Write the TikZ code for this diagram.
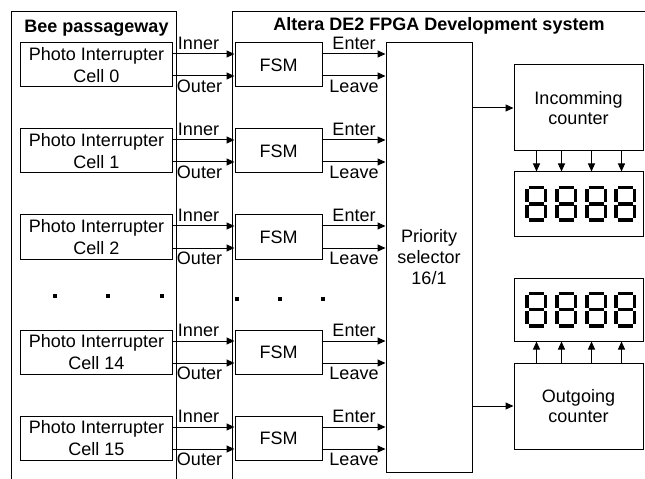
\documentclass[tikz,border=0pt]{standalone}
\usepackage{fontspec}
\setmainfont{Liberation Sans}
\usepackage{tikz}
\usetikzlibrary{arrows.meta}

\tikzset{
  cellbox/.style={draw, line width=1bp, minimum width=151bp, minimum height=44bp, inner sep=0pt, align=center},
  fsmbox/.style={draw, line width=1bp, minimum width=87bp, minimum height=44bp, inner sep=0pt},
  cntbox/.style={draw, line width=1bp, minimum width=129bp, minimum height=86bp, inner sep=0pt, align=center},
  dispbox/.style={draw, line width=1bp, minimum width=129bp, minimum height=64bp, inner sep=0pt},
  arr/.style={line width=1bp, -{Triangle[length=8bp,width=7bp]}},
  inlbl/.style={midway, anchor=base, xshift=-5bp, yshift=4.5bp, inner sep=0pt},
  outlbl/.style={midway, anchor=base, xshift=-4bp, yshift=-16.5bp, inner sep=0pt},
  enlbl/.style={midway, anchor=base, yshift=4.5bp, inner sep=0pt},
  lvlbl/.style={midway, anchor=base, yshift=-16.5bp, inner sep=0pt},
  seg/.style={line width=3.5bp},
  title/.style={font=\fontsize{18bp}{22bp}\selectfont\bfseries}
}

% one seven-segment "8", top left corner at (#1,#2)
\newcommand{\segeight}[2]{%
  \draw[seg] ({#1+3.5},{#2+1.75}) -- ({#1+18.5},{#2+1.75});
  \draw[seg] ({#1+3.5},{#2+18}) -- ({#1+18.5},{#2+18});
  \draw[seg] ({#1+3.5},{#2+34.25}) -- ({#1+18.5},{#2+34.25});
  \draw[seg] ({#1+1.75},{#2+3.5}) -- ({#1+1.75},{#2+16.5});
  \draw[seg] ({#1+1.75},{#2+19.5}) -- ({#1+1.75},{#2+32.5});
  \draw[seg] ({#1+20.25},{#2+3.5}) -- ({#1+20.25},{#2+16.5});
  \draw[seg] ({#1+20.25},{#2+19.5}) -- ({#1+20.25},{#2+32.5});
}

\begin{document}
\begin{tikzpicture}[x=1bp, y=-1bp, font=\fontsize{18bp}{22bp}\selectfont]
\useasboundingbox (0,0) rectangle (645,479);

% frames
\draw[line width=1bp] (11,484) -- (11,12) -- (176,12) -- (176,484);
\draw[line width=1bp] (650,12) -- (232,12) -- (232,484);
\node[title] (beetitle) at (96.5,28) {Bee passageway};
\node[title] (fpgatitle) at (439,26) {Altera DE2 FPGA Development system};

\node[draw, line width=1bp, minimum width=86bp, minimum height=429bp, inner sep=0pt, align=center,
  font=\fontsize{18bp}{21bp}\selectfont] (prio) at (429,257.5) {Priority\\selector\\16/1};

% cell 0
\node[cellbox] (c0) at (96.5,65) {Photo Interrupter\\Cell 0};
\node[fsmbox] (f0) at (278.5,65) {FSM};
\draw[arr] ([yshift=11bp]c0.east) -- node[inlbl]{Inner} ([yshift=11bp]f0.west);
\draw[arr] ([yshift=-11bp]c0.east) -- node[outlbl]{Outer} ([yshift=-11bp]f0.west);
\draw[arr] ([yshift=11bp]f0.east) -- node[enlbl]{Enter} ([yshift=11bp]f0.east -| prio.west);
\draw[arr] ([yshift=-11bp]f0.east) -- node[lvlbl]{Leave} ([yshift=-11bp]f0.east -| prio.west);

% cell 1
\node[cellbox] (c1) at (96.5,151) {Photo Interrupter\\Cell 1};
\node[fsmbox] (f1) at (278.5,151) {FSM};
\draw[arr] ([yshift=11bp]c1.east) -- node[inlbl]{Inner} ([yshift=11bp]f1.west);
\draw[arr] ([yshift=-11bp]c1.east) -- node[outlbl]{Outer} ([yshift=-11bp]f1.west);
\draw[arr] ([yshift=11bp]f1.east) -- node[enlbl]{Enter} ([yshift=11bp]f1.east -| prio.west);
\draw[arr] ([yshift=-11bp]f1.east) -- node[lvlbl]{Leave} ([yshift=-11bp]f1.east -| prio.west);

% cell 2
\node[cellbox] (c2) at (96.5,237) {Photo Interrupter\\Cell 2};
\node[fsmbox] (f2) at (278.5,237) {FSM};
\draw[arr] ([yshift=11bp]c2.east) -- node[inlbl]{Inner} ([yshift=11bp]f2.west);
\draw[arr] ([yshift=-11bp]c2.east) -- node[outlbl]{Outer} ([yshift=-11bp]f2.west);
\draw[arr] ([yshift=11bp]f2.east) -- node[enlbl]{Enter} ([yshift=11bp]f2.east -| prio.west);
\draw[arr] ([yshift=-11bp]f2.east) -- node[lvlbl]{Leave} ([yshift=-11bp]f2.east -| prio.west);

% dots
\fill (53,294) rectangle (57,298);
\fill (106,294) rectangle (110,298);
\fill (160,294) rectangle (164,298);
\fill (235,297) rectangle (239,301);
\fill (278,297) rectangle (282,301);
\fill (321,297) rectangle (325,301);

% cell 14
\node[cellbox] (c14) at (96.5,352) {Photo Interrupter\\Cell 14};
\node[fsmbox] (f14) at (278.5,352) {FSM};
\draw[arr] ([yshift=11bp]c14.east) -- node[inlbl]{Inner} ([yshift=11bp]f14.west);
\draw[arr] ([yshift=-11bp]c14.east) -- node[outlbl]{Outer} ([yshift=-11bp]f14.west);
\draw[arr] ([yshift=11bp]f14.east) -- node[enlbl]{Enter} ([yshift=11bp]f14.east -| prio.west);
\draw[arr] ([yshift=-11bp]f14.east) -- node[lvlbl]{Leave} ([yshift=-11bp]f14.east -| prio.west);

% cell 15
\node[cellbox] (c15) at (96.5,438) {Photo Interrupter\\Cell 15};
\node[fsmbox] (f15) at (278.5,438) {FSM};
\draw[arr] ([yshift=11bp]c15.east) -- node[inlbl]{Inner} ([yshift=11bp]f15.west);
\draw[arr] ([yshift=-11bp]c15.east) -- node[outlbl]{Outer} ([yshift=-11bp]f15.west);
\draw[arr] ([yshift=11bp]f15.east) -- node[enlbl]{Enter} ([yshift=11bp]f15.east -| prio.west);
\draw[arr] ([yshift=-11bp]f15.east) -- node[lvlbl]{Leave} ([yshift=-11bp]f15.east -| prio.west);

% counters and displays
\node[cntbox, font=\fontsize{18bp}{20bp}\selectfont] (incnt) at (578.5,108) {Incomming\\counter};
\node[dispbox] (indisp) at (578.5,204) {};
\node[dispbox, minimum height=63bp] (outdisp) at (578.5,309.5) {};
\node[cntbox, font=\fontsize{18bp}{20bp}\selectfont] (outcnt) at (578.5,406) {Outgoing\\counter};

\draw[arr] (prio.east |- incnt) -- (incnt.west);
\draw[arr] (prio.east |- outcnt) -- (outcnt.west);

\draw[arr] ([xshift=23bp]incnt.south west) -- ([xshift=23bp]indisp.north west);
\draw[arr] ([xshift=48bp]incnt.south west) -- ([xshift=48bp]indisp.north west);
\draw[arr] ([xshift=78bp]incnt.south west) -- ([xshift=78bp]indisp.north west);
\draw[arr] ([xshift=108bp]incnt.south west) -- ([xshift=108bp]indisp.north west);

\draw[arr] ([xshift=23bp]outcnt.north west) -- ([xshift=23bp]outdisp.south west);
\draw[arr] ([xshift=48bp]outcnt.north west) -- ([xshift=48bp]outdisp.south west);
\draw[arr] ([xshift=78bp]outcnt.north west) -- ([xshift=78bp]outdisp.south west);
\draw[arr] ([xshift=108bp]outcnt.north west) -- ([xshift=108bp]outdisp.south west);

\segeight{525}{186}
\segeight{555}{186}
\segeight{585}{186}
\segeight{614}{186}
\segeight{525}{291.5}
\segeight{555}{291.5}
\segeight{585}{291.5}
\segeight{614}{291.5}
\end{tikzpicture}
\end{document}
